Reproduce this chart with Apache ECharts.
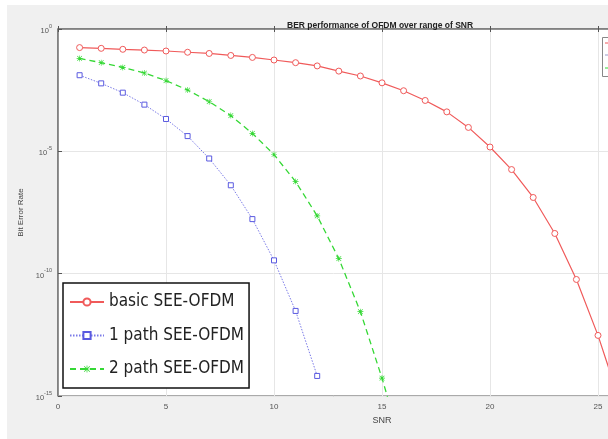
<!DOCTYPE html>
<html lang="en">
<head>
    <meta charset="UTF-8">
    <script src="https://cdn.jsdelivr.net/npm/echarts@6/dist/echarts.min.js"></script>
    <title>BER performance</title>
    <style>
        body { margin: 0; background: #fff; }
        #wrap { position: relative; width: 608px; height: 439px; overflow: hidden; }
        #bg { position: absolute; left: 7px; top: 5px; right: 0; bottom: 0; background: #f0f0f0; }
        #main { position: absolute; left: 0; top: 0; width: 608px; height: 439px; }
    </style>
</head>
<body>
    <div id="wrap">
        <div id="bg"></div>
        <div id="main"></div>
    </div>
    <script>
        // SNR values (dB) and bit error rates
        var snrBasic = [1, 2, 3, 4, 5, 6, 7, 8, 9, 10, 11, 12, 13, 14, 15, 16, 17, 18, 19, 20, 21, 22, 23, 24, 25, 26];
        var berBasic = [0.174, 0.162, 0.148, 0.138, 0.126, 0.112, 0.1, 0.083, 0.069, 0.054, 0.042, 0.031, 0.019, 0.012,
            6.3e-3, 3.0e-3, 1.2e-3, 4.1e-4, 9.5e-5, 1.5e-5, 1.8e-6, 1.3e-7, 4.4e-9, 5.8e-11, 3.0e-13, 6.3e-16];
        var snr1Path = [1, 2, 3, 4, 5, 6, 7, 8, 9, 10, 11, 12];
        var ber1Path = [0.0129, 6.0e-3, 2.5e-3, 8.1e-4, 2.1e-4, 4.2e-5, 5.1e-6, 4.1e-7, 1.7e-8, 3.5e-10, 3.0e-12, 6.6e-15];
        var snr2Path = [1, 2, 3, 4, 5, 6, 7, 8, 9, 10, 11, 12, 13, 14, 15, 16];
        var ber2Path = [0.063, 0.042, 0.027, 0.0158, 7.8e-3, 3.2e-3, 1.07e-3, 2.9e-4, 5.4e-5, 7.4e-6, 5.8e-7, 2.3e-8,
            4.1e-10, 2.8e-12, 5.4e-15, 5e-18];
        var seriesNames = ['basic SEE-OFDM', '1 path SEE-OFDM', '2 path SEE-OFDM'];
        var xTicks = [0, 5, 10, 15, 20, 25, 30];
        var yDecades = [0, -5, -10, -15];

        var font = 'Liberation Sans';
        var starPath = 'path://M4.5 0H5.5V10H4.5Z M0 4.5H10V5.5H0Z M0.7 1.4L1.4 0.7L9.3 8.6L8.6 9.3Z M8.6 0.7L9.3 1.4L1.4 9.3L0.7 8.6Z';

        // y axis is drawn in decades (log10 of BER)
        function toLog(xs, ys) {
            var out = [];
            for (var i = 0; i < xs.length; i++) {
                out.push([xs[i], Math.log10(ys[i])]);
            }
            return out;
        }

        var chart = echarts.init(document.getElementById('main'));
        var option = {
            animation: false,
            title: {
                text: 'BER performance of OFDM over range of SNR',
                left: 282,
                top: 16,
                textStyle: { fontFamily: font, fontSize: 8.5, fontWeight: 'bold', color: '#222' }
            },
            grid: {
                left: 58, top: 29, width: 648, height: 367,
                outerBoundsMode: 'none', containLabel: false,
                show: true, backgroundColor: '#fff', borderColor: '#555', borderWidth: 1
            },
            legend: {
                orient: 'vertical',
                left: 63, top: 283,
                padding: [8, 5, 8, 6],
                itemGap: 11.5,
                itemWidth: 34, itemHeight: 9,
                backgroundColor: '#fff',
                borderColor: '#111', borderWidth: 1.5, borderRadius: 0,
                textStyle: {
                    fontFamily: 'Liberation Sans Narrow, DejaVu Sans Condensed, Liberation Sans',
                    fontSize: 17, lineHeight: 22, color: '#222'
                },
                data: seriesNames
            },
            xAxis: [{
                type: 'value', min: xTicks[0], max: xTicks[xTicks.length - 1], interval: 5,
                name: 'SNR', nameLocation: 'middle', nameGap: 19,
                nameTextStyle: { fontFamily: font, fontSize: 9, color: '#444' },
                axisLine: { lineStyle: { color: '#777', width: 1.5 } },
                axisTick: { inside: true, length: 3, lineStyle: { color: '#555' } },
                axisLabel: { fontFamily: font, fontSize: 8, color: '#555', margin: 7 },
                splitLine: { show: true, lineStyle: { color: '#e6e6e6', width: 1 } }
            }, {
                type: 'value', position: 'top', min: xTicks[0], max: xTicks[xTicks.length - 1], interval: 5,
                axisLine: { show: false },
                axisTick: { inside: true, length: 3, lineStyle: { color: '#555' } },
                axisLabel: { show: false },
                splitLine: { show: false }
            }],
            yAxis: {
                type: 'value', min: yDecades[yDecades.length - 1], max: yDecades[0], interval: 5,
                name: 'Bit Error Rate', nameLocation: 'middle', nameGap: 26,
                nameTextStyle: { fontFamily: font, fontSize: 8, color: '#444' },
                axisLine: { show: true, lineStyle: { color: '#777', width: 1.5 } },
                axisTick: { show: true, inside: true, length: 4, lineStyle: { color: '#555' } },
                axisLabel: {
                    margin: 6,
                    formatter: function (v) { return '{b|10}{s|' + v + '}'; },
                    rich: {
                        b: { fontFamily: font, fontSize: 7.5, color: '#555', lineHeight: 12, verticalAlign: 'bottom' },
                        s: { fontFamily: font, fontSize: 5.5, color: '#555', lineHeight: 12, verticalAlign: 'top' }
                    }
                },
                splitLine: { show: true, lineStyle: { color: '#e6e6e6', width: 1 } }
            },
            series: [{
                name: seriesNames[0], type: 'line',
                data: toLog(snrBasic, berBasic),
                symbol: 'circle', symbolSize: 6,
                lineStyle: { color: '#f05a5a', width: 1.2 },
                itemStyle: { color: '#fff', borderColor: '#f05a5a', borderWidth: 1 }
            }, {
                name: seriesNames[1], type: 'line',
                data: toLog(snr1Path, ber1Path),
                symbol: 'rect', symbolSize: 5,
                lineStyle: { color: '#7a7ae8', width: 1, type: [1.5, 1.5] },
                itemStyle: { color: '#fff', borderColor: '#5a5ae0', borderWidth: 1 }
            }, {
                name: seriesNames[2], type: 'line',
                data: toLog(snr2Path, ber2Path),
                symbol: starPath, symbolSize: 6,
                lineStyle: { color: '#35d835', width: 1.3, type: [6, 4] },
                itemStyle: { color: '#35d835' }
            }],
            graphic: [{
                type: 'rect', left: 602, top: 37, shape: { width: 30, height: 39 },
                style: { fill: '#fff', stroke: '#888', lineWidth: 1 }
            }, {
                type: 'line', shape: { x1: 605, y1: 43, x2: 609, y2: 43 }, style: { stroke: '#f05a5a', lineWidth: 1 }
            }, {
                type: 'line', shape: { x1: 605, y1: 55, x2: 609, y2: 55 }, style: { stroke: '#9a9ac8', lineWidth: 1 }
            }, {
                type: 'line', shape: { x1: 605, y1: 68, x2: 609, y2: 68 }, style: { stroke: '#35d835', lineWidth: 1 }
            }]
        };
        chart.setOption(option);
    </script>
</body>
</html>
